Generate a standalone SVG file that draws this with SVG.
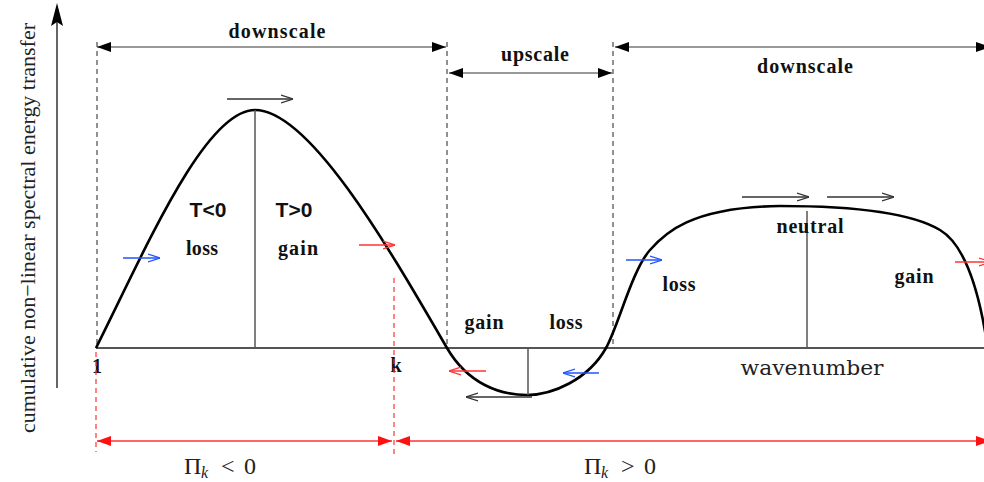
<svg xmlns="http://www.w3.org/2000/svg" width="984" height="482" viewBox="0 0 984 482">
<style>
.lbl{font-family:"Liberation Serif","Times New Roman",serif;font-weight:bold;font-size:20px;fill:#111;text-anchor:middle}
.sans{font-family:"Liberation Sans",Arial,sans-serif;font-weight:bold;font-size:21px;fill:#111;text-anchor:middle}
.math{font-family:"Liberation Serif","Times New Roman",serif;font-size:24px;fill:#222}
.dim{stroke:#777;stroke-width:1.6;fill:none}
.rdim{stroke:#ff3333;stroke-width:1.6;fill:none}
.dash{stroke:#222;stroke-width:1;stroke-dasharray:5,4;fill:none}
.rdash{stroke:#ff3333;stroke-width:1.2;stroke-dasharray:5,4;fill:none}
.axis{stroke:#555;stroke-width:1.8;fill:none}
.vline{stroke:#555;stroke-width:1.5;fill:none}
.curve{stroke:#000;stroke-width:2.6;fill:none}
.ak{stroke:#333;stroke-width:1.4;fill:none;marker-end:url(#openK)}
.ab{stroke:#2255ff;stroke-width:1.4;fill:none;marker-end:url(#openB)}
.ar{stroke:#ff3333;stroke-width:1.4;fill:none;marker-end:url(#openR)}
</style>
<defs>
<marker id="fillK" viewBox="0 0 14 10" refX="14" refY="5" markerWidth="14" markerHeight="10" markerUnits="userSpaceOnUse" orient="auto-start-reverse"><path d="M0,0 L14,5 L0,10 z" fill="#000"/></marker>
<marker id="fillR" viewBox="0 0 14 10" refX="14" refY="5" markerWidth="14" markerHeight="10" markerUnits="userSpaceOnUse" orient="auto-start-reverse"><path d="M0,0 L14,5 L0,10 z" fill="#ff1111"/></marker>
<marker id="openK" viewBox="0 0 12 10" refX="12" refY="5" markerWidth="12" markerHeight="10" markerUnits="userSpaceOnUse" orient="auto"><path d="M0,1 L12,5 L0,9" fill="none" stroke="#333" stroke-width="1.3"/></marker>
<marker id="openB" viewBox="0 0 12 10" refX="12" refY="5" markerWidth="12" markerHeight="10" markerUnits="userSpaceOnUse" orient="auto"><path d="M0,1 L12,5 L0,9" fill="none" stroke="#2255ff" stroke-width="1.3"/></marker>
<marker id="openR" viewBox="0 0 12 10" refX="12" refY="5" markerWidth="12" markerHeight="10" markerUnits="userSpaceOnUse" orient="auto"><path d="M0,1 L12,5 L0,9" fill="none" stroke="#ff3333" stroke-width="1.3"/></marker>
</defs>

<g id="y-axis">
<line x1="57" y1="388" x2="57" y2="14" class="axis" stroke="#222"/>
<path d="M57,3 L63,26 L57,22 L51,26 z" fill="#000"/>
<text transform="translate(35,228) rotate(-90)" text-anchor="middle" font-family="Liberation Serif,Times New Roman,serif" font-size="22" fill="#222" textLength="410" lengthAdjust="spacing">cumulative non−linear spectral energy transfer</text>
</g>

<g id="x-axis">
<line x1="96" y1="348" x2="984" y2="348" class="axis"/>
<text x="97" y="373" class="lbl" font-size="18">1</text>
<text x="396" y="372" class="lbl" font-size="18">k</text>
<text x="812" y="375" font-family="DejaVu Serif,Liberation Serif,serif" font-size="20" fill="#222" text-anchor="middle" textLength="143" lengthAdjust="spacingAndGlyphs">wavenumber</text>
</g>

<g id="guides">
<line x1="97" y1="42" x2="97" y2="348" class="dash"/>
<line x1="447" y1="42" x2="447" y2="348" class="dash"/>
<line x1="613" y1="42" x2="613" y2="348" class="dash"/>
<line x1="96" y1="352" x2="96" y2="452" class="rdash"/>
<line x1="394" y1="278" x2="394" y2="455" class="rdash"/>
</g>

<g id="connectors">
<line x1="97" y1="47" x2="446" y2="47" class="dim" marker-start="url(#fillK)" marker-end="url(#fillK)"/>
<line x1="449" y1="73" x2="612" y2="73" class="dim" marker-start="url(#fillK)" marker-end="url(#fillK)"/>
<line x1="615" y1="47" x2="990" y2="47" class="dim" marker-start="url(#fillK)" marker-end="url(#fillK)"/>
<line x1="97" y1="441" x2="392" y2="441" class="rdim" marker-start="url(#fillR)" marker-end="url(#fillR)"/>
<line x1="396" y1="441" x2="990" y2="441" class="rdim" marker-start="url(#fillR)" marker-end="url(#fillR)"/>
</g>

<g id="curve">
<path class="curve" d="M96,348 C146,248 205,110 255,110 C310,110 390,250 447,348 C468,384 500,395 527,395 C552,395 588,380 606,348 C618,327 632,270 650,250 C664,234 690,207 780,206 C850,206 910,212 940,230 C962,243 978,280 988,350"/>
<line x1="255" y1="110" x2="255" y2="348" class="vline"/>
<line x1="528" y1="348" x2="528" y2="395" class="vline"/>
<line x1="807" y1="211" x2="807" y2="348" class="vline"/>
</g>

<g id="flow-arrows">
<line x1="227" y1="99" x2="293" y2="99" class="ak"/>
<line x1="123" y1="258" x2="160" y2="258" class="ab"/>
<line x1="359" y1="245" x2="395" y2="245" class="ar"/>
<line x1="486" y1="371" x2="449" y2="371" class="ar"/>
<line x1="599" y1="373" x2="563" y2="373" class="ab"/>
<line x1="532" y1="397" x2="466" y2="397" class="ak"/>
<line x1="626" y1="260" x2="662" y2="260" class="ab"/>
<line x1="742" y1="197" x2="809" y2="197" class="ak"/>
<line x1="827" y1="197" x2="894" y2="197" class="ak"/>
<line x1="955" y1="262" x2="991" y2="262" class="ar"/>
</g>

<g id="labels">
<text x="277" y="38" class="lbl" textLength="97" lengthAdjust="spacing">downscale</text>
<text x="535" y="61" class="lbl" textLength="68" lengthAdjust="spacing">upscale</text>
<text x="805" y="73" class="lbl" textLength="96" lengthAdjust="spacing">downscale</text>
<text x="208" y="217" class="sans">T&lt;0</text>
<text x="294" y="217" class="sans">T&gt;0</text>
<text x="202" y="255" class="lbl" textLength="32" lengthAdjust="spacing">loss</text>
<text x="298" y="255" class="lbl" textLength="40" lengthAdjust="spacing">gain</text>
<text x="484" y="329" class="lbl" textLength="39" lengthAdjust="spacing">gain</text>
<text x="566" y="329" class="lbl" textLength="33" lengthAdjust="spacing">loss</text>
<text x="810" y="233" class="lbl" textLength="67" lengthAdjust="spacing">neutral</text>
<text x="679" y="291" class="lbl" textLength="33" lengthAdjust="spacing">loss</text>
<text x="914" y="283" class="lbl" textLength="39" lengthAdjust="spacing">gain</text>
</g>

<g id="pi-labels">
<text class="math" y="474"><tspan x="184">Π</tspan><tspan x="201" dy="4" font-size="16" font-style="italic">k</tspan><tspan x="221" dy="-4">&lt;</tspan><tspan x="244">0</tspan></text>
<text class="math" y="474"><tspan x="584">Π</tspan><tspan x="601" dy="4" font-size="16" font-style="italic">k</tspan><tspan x="621" dy="-4">&gt;</tspan><tspan x="644">0</tspan></text>
</g>
</svg>
